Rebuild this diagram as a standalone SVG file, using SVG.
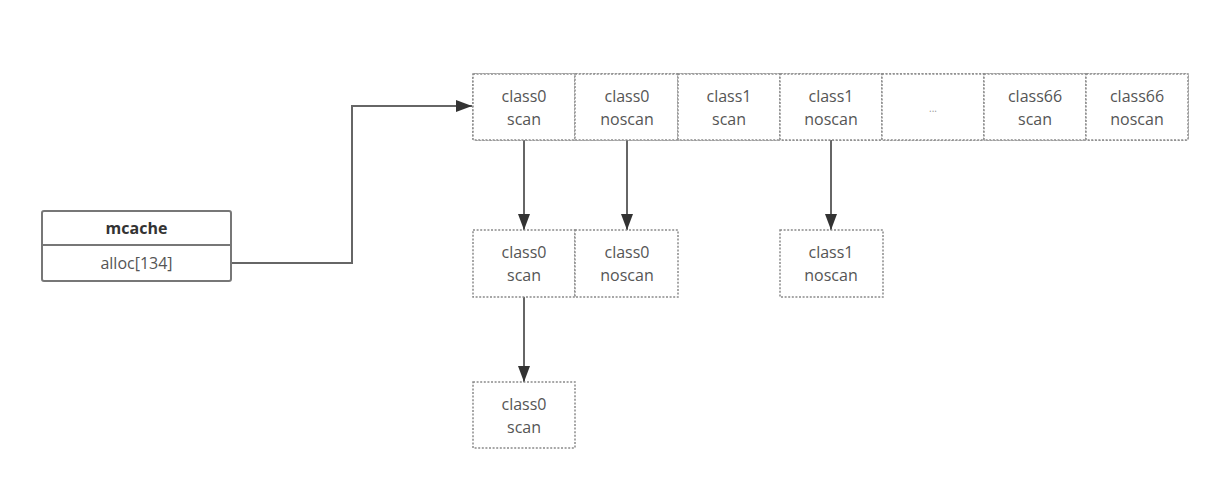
<svg xmlns="http://www.w3.org/2000/svg" width="1227" height="480" viewBox="0 0 1227 480">
<style>
.cell{fill:#fff;stroke:#8a8a8a;stroke-width:1.5;stroke-dasharray:2 1.6}
.t{font-family:"Open Sans","Liberation Sans",sans-serif;font-size:16px;fill:#555;text-anchor:middle}
.b{font-weight:bold;fill:#333}
.conn{fill:none;stroke:#666;stroke-width:2}
.solid{fill:#fff;stroke:#777;stroke-width:2}
</style>
<defs>
<marker id="ah" viewBox="0 0 16 12" refX="16" refY="6" markerWidth="8" markerHeight="6" orient="auto" markerUnits="strokeWidth">
<path d="M0,0 L16,6 L0,12 Z" fill="#333"/>
</marker>
</defs>
<rect width="1227" height="480" fill="#fff"/>
<g id="connectors">
<path class="conn" d="M231,263 H352 V106 H472" marker-end="url(#ah)"/>
<path class="conn" d="M524,140 V230" marker-end="url(#ah)"/>
<path class="conn" d="M627,140 V230" marker-end="url(#ah)"/>
<path class="conn" d="M831,140 V230" marker-end="url(#ah)"/>
<path class="conn" d="M524,297 V382" marker-end="url(#ah)"/>
</g>
<g id="mcache">
<rect class="solid" x="42" y="211" width="189" height="70" rx="2"/>
<line x1="42" y1="245" x2="231" y2="245" stroke="#777" stroke-width="2"/>
<text class="t b" x="136.5" y="234">mcache</text>
<text class="t" x="136.5" y="269">alloc[134]</text>
</g>
<g id="array">
<rect class="cell" x="473" y="74" width="715" height="66" rx="2"/>
<g id="a0"><rect class="cell" x="473" y="74" width="102" height="66"/><text class="t" x="524" y="102">class0</text><text class="t" x="524" y="125">scan</text></g>
<g id="a1"><rect class="cell" x="575" y="74" width="103" height="66"/><text class="t" x="627" y="102">class0</text><text class="t" x="627" y="125">noscan</text></g>
<g id="a2"><rect class="cell" x="678" y="74" width="102" height="66"/><text class="t" x="729" y="102">class1</text><text class="t" x="729" y="125">scan</text></g>
<g id="a3"><rect class="cell" x="780" y="74" width="102" height="66"/><text class="t" x="831" y="102">class1</text><text class="t" x="831" y="125">noscan</text></g>
<g id="a4"><rect class="cell" x="882" y="74" width="102" height="66"/><text class="t" x="933" y="112" style="font-size:10px;fill:#999">...</text></g>
<g id="a5"><rect class="cell" x="984" y="74" width="102" height="66"/><text class="t" x="1035" y="102">class66</text><text class="t" x="1035" y="125">scan</text></g>
<g id="a6"><rect class="cell" x="1086" y="74" width="102" height="66"/><text class="t" x="1137" y="102">class66</text><text class="t" x="1137" y="125">noscan</text></g>
</g>
<g id="n0scan"><rect class="cell" x="473" y="230" width="102" height="67"/><text class="t" x="524" y="258">class0</text><text class="t" x="524" y="281">scan</text></g>
<g id="n0noscan"><rect class="cell" x="575" y="230" width="103" height="67"/><text class="t" x="627" y="258">class0</text><text class="t" x="627" y="281">noscan</text></g>
<g id="n1noscan"><rect class="cell" x="780" y="230" width="103" height="67"/><text class="t" x="831" y="258">class1</text><text class="t" x="831" y="281">noscan</text></g>
<g id="n0scan2"><rect class="cell" x="473" y="382" width="102" height="66"/><text class="t" x="524" y="410">class0</text><text class="t" x="524" y="433">scan</text></g>
</svg>
